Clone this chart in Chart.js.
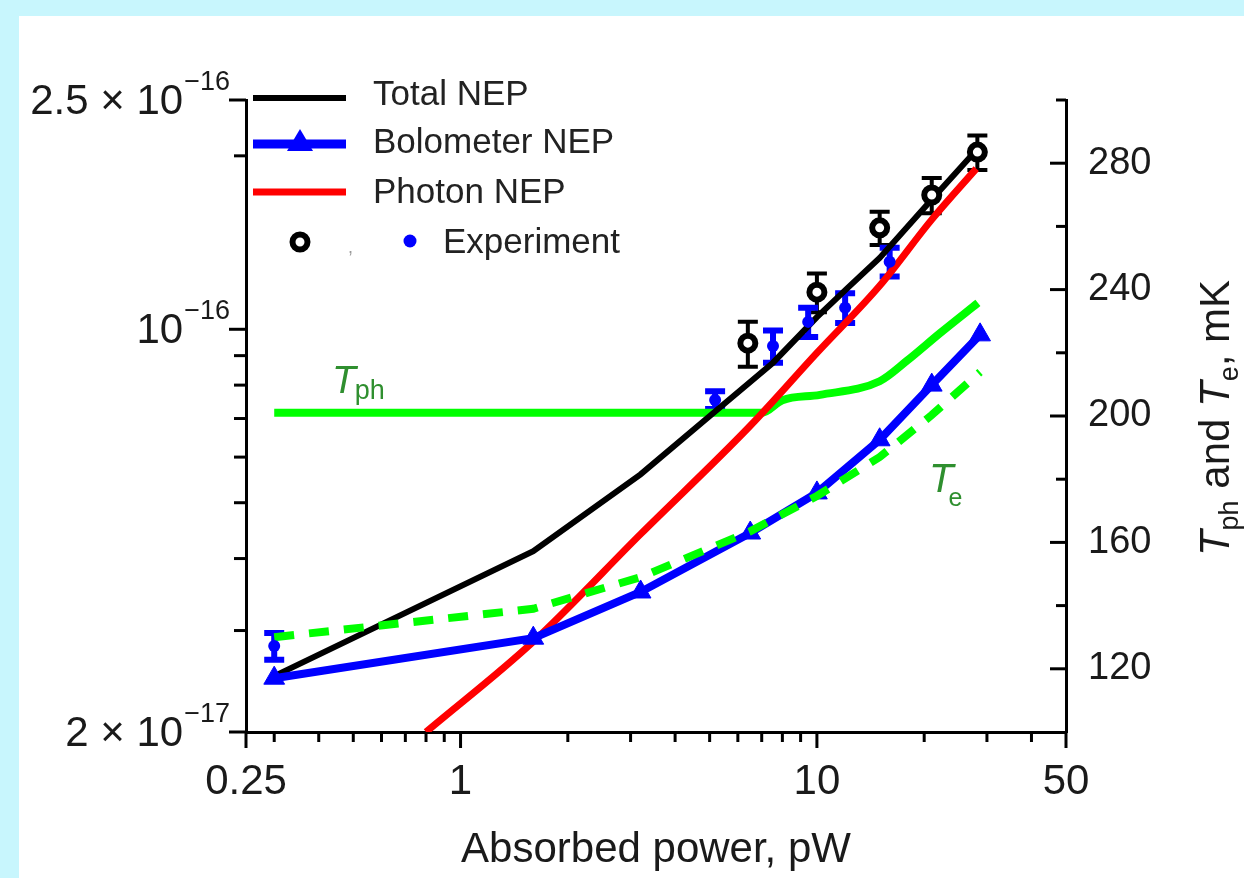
<!DOCTYPE html>
<html>
<head>
<meta charset="utf-8">
<script src="https://cdn.jsdelivr.net/npm/chart.js@4.4.1/dist/chart.umd.min.js"></script>
<style>
  html, body { margin:0; padding:0; }
  body { width:1244px; height:878px; background:#c8f6fd; position:relative; overflow:hidden; }
  #panel { position:absolute; left:19px; top:16px; width:1225px; height:862px; background:#ffffff; }
  #c { display:block; }
</style>
</head>
<body>
<div id="panel"><canvas id="c" width="1225" height="862"></canvas></div>
<script>
// ---------------- data ----------------
const modelPower     = [0.3, 1.6, 3.2, 6.5, 10, 15, 21, 28.7];
const bolometerNEP   = [2.48e-17, 2.91e-17, 3.5e-17, 4.43e-17, 5.2e-17, 6.43e-17, 8.0e-17, 9.78e-17];
const electronTemp   = [130, 139, 149, 163.5, 174.7, 187, 200.3, 213.9];
const totalPower     = [0.3, 1.6, 3.2, 5.25, 7.53, 10, 12.2, 15, 21, 28.7];
const totalNEP       = [2.5e-17, 4.12e-17, 5.6e-17, 7.25e-17, 8.75e-17, 1.05e-16, 1.18e-16, 1.33e-16, 1.68e-16, 2.08e-16];
const photonPower    = [0.8, 1.6, 3.2, 6.5, 10, 15, 21, 28];
const photonNEP      = [2.0e-17, 2.87e-17, 4.41e-17, 6.8e-17, 9.1e-17, 1.19e-16, 1.55e-16, 1.9e-16];
const phononPower    = [0.3, 7.0, 8.0, 10.2, 15, 17.9, 22.2, 28.3];
const phononTemp     = [201, 201, 205, 206.7, 211, 217.5, 226.3, 235.8];
const expTotalPower  = [6.4, 10.0, 15.0, 21.0, 28.2];
const expTotalNEP    = [9.46e-17, 1.16e-16, 1.50e-16, 1.71e-16, 2.03e-16];
const expTotalErr    = [0.85e-17, 0.09e-16, 0.10e-16, 0.12e-16, 0.14e-16];
const expBoloPower   = [0.3, 5.18, 7.53, 9.45, 12.0, 16.0];
const expBoloNEP     = [2.82e-17, 7.54e-17, 9.35e-17, 1.03e-16, 1.09e-16, 1.31e-16];
const expBoloErr     = [0.15e-17, 0.27e-17, 0.6e-17, 0.6e-17, 0.65e-17, 0.75e-17];

const xTickValues    = [0.25, 1, 10, 50];
const xTickLabels    = ['0.25', '1', '10', '50'];
const xMinorTicks    = [0.3, 0.4, 0.5, 0.6, 0.7, 0.8, 0.9, 2, 3, 4, 5, 6, 7, 8, 9, 20, 30, 40];
const yTickValues    = [2e-17, 1e-16, 2.5e-16];
const yTickMantissas = ['2 × ', '', '2.5 × '];
const yTickExponents = ['\u221217', '\u221216', '\u221216'];
const yMinorTicks    = [3e-17, 4e-17, 5e-17, 6e-17, 7e-17, 8e-17, 9e-17, 2e-16];
const tTickValues    = [120, 160, 200, 240, 280];
const tMinorTicks    = [140, 180, 220, 260, 300];
const legendLabels   = ['Total NEP', 'Bolometer NEP', 'Photon NEP', 'Experiment'];
const xTitle         = 'Absorbed power, pW';

// ---------------- helpers ----------------
const FONT = '"Liberation Sans", Arial, Helvetica, sans-serif';
const OX = 19, OY = 16; // panel offset in the page
const P = (x, y) => [x - OX, y - OY];
const toXY = (xs, ys) => xs.map((v, i) => ({ x: v, y: ys[i] }));
const GREEN = '#00ff00', BLUE = '#0000ff', RED = '#ff0000', DKGREEN = '#2f8f2f';

function drawRuns(ctx, runs, x, y, align) {
  let total = 0;
  runs.forEach(r => { ctx.font = r.font; r.w = ctx.measureText(r.text).width + (r.dx || 0); total += r.w; });
  let cx = align === 'center' ? x - total / 2 : x;
  runs.forEach(r => { ctx.font = r.font; ctx.fillText(r.text, cx, y + (r.dy || 0)); cx += r.w; });
}

// error bars through the chart's scales
const errorBars = {
  id: 'errorBars',
  beforeDatasetsDraw(chart) {
    const ctx = chart.ctx;
    chart.data.datasets.forEach(ds => {
      if (!ds.errors) return;
      const xs = chart.scales.x, ys = chart.scales[ds.yAxisID];
      ctx.save();
      ctx.strokeStyle = ds.errorColor; ctx.lineWidth = ds.errorWidth; ctx.lineCap = 'butt';
      ds.data.forEach((p, j) => {
        const px = xs.getPixelForValue(p.x);
        const t = ys.getPixelForValue(p.y + ds.errors[j]);
        const b = ys.getPixelForValue(p.y - ds.errors[j]);
        const hw = ds.capHalf;
        ctx.beginPath();
        ctx.moveTo(px, t); ctx.lineTo(px, b);
        ctx.moveTo(px - hw, t); ctx.lineTo(px + hw, t);
        ctx.moveTo(px - hw, b); ctx.lineTo(px + hw, b);
        ctx.stroke();
      });
      ctx.restore();
    });
  }
};

// tick marks, left labels, right title, legend, curve labels
const decor = {
  id: 'decor',
  afterDraw(chart) {
    const { ctx, chartArea: a, scales } = chart;
    const xs = scales.x, ys = scales.y, ts = scales.y2;
    ctx.save();
    ctx.strokeStyle = '#000'; ctx.lineWidth = 3; ctx.lineCap = 'butt';
    const seg = (x1, y1, x2, y2) => { ctx.beginPath(); ctx.moveTo(x1, y1); ctx.lineTo(x2, y2); ctx.stroke(); };
    xTickValues.forEach(v => { const p = xs.getPixelForValue(v); seg(p, a.bottom, p, a.bottom + 16); });
    xMinorTicks.forEach(v => { const p = xs.getPixelForValue(v); seg(p, a.bottom, p, a.bottom + 10); });
    yTickValues.forEach(v => { const p = ys.getPixelForValue(v); seg(a.left - 17, p, a.left, p); });
    yMinorTicks.forEach(v => { const p = ys.getPixelForValue(v); seg(a.left - 12, p, a.left, p); });
    tTickValues.forEach(v => { const p = ts.getPixelForValue(v); seg(a.right - 16, p, a.right, p); });
    tMinorTicks.forEach(v => { const p = ts.getPixelForValue(v); seg(a.right - 10, p, a.right, p); });

    // left tick labels with superscripts
    ctx.fillStyle = '#1a1a1a'; ctx.textBaseline = 'alphabetic';
    const rightEdge = a.left - 16;
    yTickValues.forEach((v, i) => {
      const p = ys.getPixelForValue(v);
      ctx.font = '27px ' + FONT;
      const w2 = ctx.measureText(yTickExponents[i]).width;
      ctx.textAlign = 'left';
      ctx.fillText(yTickExponents[i], rightEdge - w2, p - 10);
      ctx.font = '42px ' + FONT;
      ctx.textAlign = 'right';
      ctx.fillText(yTickMantissas[i] + '10', rightEdge - w2 - 1, p + 14);
    });

    // right axis title (rotated)
    ctx.save();
    const [rx, ry] = P(1229, 418);
    ctx.translate(rx, ry); ctx.rotate(-Math.PI / 2);
    ctx.textAlign = 'left'; ctx.fillStyle = '#1a1a1a';
    drawRuns(ctx, [
      { text: 'T', font: 'italic 42px ' + FONT },
      { text: 'ph', font: '27px ' + FONT, dy: 9 },
      { text: ' and ', font: '42px ' + FONT },
      { text: 'T', font: 'italic 42px ' + FONT },
      { text: 'e', font: '27px ' + FONT, dy: 9 },
      { text: ', mK', font: '42px ' + FONT }
    ], 0, 0, 'center');
    ctx.restore();

    // curve labels
    ctx.fillStyle = DKGREEN; ctx.textAlign = 'left';
    let [lx, ly] = P(332, 393);
    drawRuns(ctx, [{ text: 'T', font: 'italic 39px ' + FONT, dx: -1 }, { text: 'ph', font: '27px ' + FONT, dy: 6 }], lx, ly);
    [lx, ly] = P(929, 492);
    drawRuns(ctx, [{ text: 'T', font: 'italic 40px ' + FONT, dx: -5 }, { text: 'e', font: '25px ' + FONT, dy: 14 }], lx, ly);

    // legend
    const [l1] = P(253, 0), [l2] = P(346, 0), [tx] = P(373, 0);
    const rowsY = [98, 144, 192].map(v => v - OY);
    const baseY = [105, 153, 203].map(v => v - OY);
    const cols = ['#000000', BLUE, RED], lw = [6, 9, 7];
    for (let i = 0; i < 3; i++) {
      ctx.strokeStyle = cols[i]; ctx.lineWidth = lw[i];
      seg(l1, rowsY[i], l2, rowsY[i]);
    }
    const [trx, tryy] = P(300, 143);
    ctx.fillStyle = BLUE;
    ctx.beginPath(); ctx.moveTo(trx, tryy - 14); ctx.lineTo(trx + 13, tryy + 8); ctx.lineTo(trx - 13, tryy + 8); ctx.closePath(); ctx.fill();
    ctx.fillStyle = '#222'; ctx.font = '35px ' + FONT; ctx.textAlign = 'left';
    for (let i = 0; i < 3; i++) ctx.fillText(legendLabels[i], tx, baseY[i]);
    const [ex, ey] = P(443, 253);
    ctx.fillText(legendLabels[3], ex, ey);
    // experiment symbols
    const [cx, cy] = P(300, 242);
    ctx.lineWidth = 6; ctx.strokeStyle = '#000'; ctx.fillStyle = '#fff';
    ctx.beginPath(); ctx.arc(cx, cy, 7.5, 0, Math.PI * 2); ctx.fill(); ctx.stroke();
    const [kx, ky] = P(348, 253);
    ctx.fillStyle = '#9a9a9a'; ctx.font = '18px ' + FONT; ctx.fillText(',', kx, ky);
    const [bx, by] = P(410, 241);
    ctx.fillStyle = BLUE; ctx.beginPath(); ctx.arc(bx, by, 6.5, 0, Math.PI * 2); ctx.fill();
    ctx.restore();
  }
};

const ctx = document.getElementById('c').getContext('2d');
new Chart(ctx, {
  type: 'line',
  data: {
    datasets: [
      { label: 'expTotal', data: toXY(expTotalPower, expTotalNEP), yAxisID: 'y', showLine: false,
        pointRadius: 7.5, pointBorderWidth: 6, pointBorderColor: '#000', pointBackgroundColor: '#fff',
        errors: expTotalErr, errorColor: '#000', errorWidth: 4, capHalf: 10, order: 0 },
      { label: 'expBolo', data: toXY(expBoloPower, expBoloNEP), yAxisID: 'y', showLine: false,
        pointRadius: 6, pointBorderWidth: 0, pointBackgroundColor: BLUE,
        errors: expBoloErr, errorColor: BLUE, errorWidth: 6, capHalf: 10, order: 1 },
      { label: 'Te', data: toXY(modelPower, electronTemp), yAxisID: 'y2', borderColor: GREEN,
        borderWidth: 8, borderDash: [20, 15], pointRadius: 0, tension: 0, order: 2 },
      { label: 'Bolometer NEP', data: toXY(modelPower, bolometerNEP), yAxisID: 'y', borderColor: BLUE,
        borderWidth: 8, pointStyle: 'triangle', pointRadius: 12, pointBackgroundColor: BLUE,
        pointBorderColor: BLUE, pointBorderWidth: 1, tension: 0, order: 3 },
      { label: 'Total NEP', data: toXY(totalPower, totalNEP), yAxisID: 'y', borderColor: '#000',
        borderWidth: 6, pointRadius: 0, tension: 0, order: 4 },
      { label: 'Photon NEP', data: toXY(photonPower, photonNEP), yAxisID: 'y', borderColor: RED,
        borderWidth: 7, pointRadius: 0, cubicInterpolationMode: 'monotone', order: 5 },
      { label: 'Tph', data: toXY(phononPower, phononTemp), yAxisID: 'y2', borderColor: GREEN,
        borderWidth: 8, pointRadius: 0, cubicInterpolationMode: 'monotone', order: 6 }
    ]
  },
  options: {
    responsive: false, animation: false, devicePixelRatio: 1,
    layout: { padding: { top: 84, left: 0, right: 0, bottom: 0 } },
    plugins: { legend: { display: false }, tooltip: { enabled: false } },
    scales: {
      x: {
        type: 'logarithmic', position: 'bottom', min: 0.25, max: 50,
        grid: { display: false, drawTicks: false },
        border: { display: true, color: '#000', width: 3 },
        afterBuildTicks: s => { s.ticks = xTickValues.map(v => ({ value: v })); },
        afterFit: s => { s.height = 146; },
        ticks: { color: '#1a1a1a', font: { family: FONT, size: 42 }, padding: 25, maxRotation: 0, autoSkip: false,
          callback: v => xTickLabels[xTickValues.indexOf(v)] },
        title: { display: true, text: xTitle, color: '#1a1a1a', font: { family: FONT, size: 42 }, padding: { top: 0, bottom: 2 } }
      },
      y: {
        type: 'logarithmic', position: 'left', min: 2e-17, max: 2.5e-16,
        grid: { display: false, drawTicks: false },
        border: { display: true, color: '#000', width: 3 },
        ticks: { display: false },
        afterFit: s => { s.width = 227; }
      },
      y2: {
        type: 'linear', position: 'right', min: 100, max: 300,
        grid: { display: false, drawTicks: false },
        border: { display: true, color: '#000', width: 3 },
        afterBuildTicks: s => { s.ticks = tTickValues.map(v => ({ value: v })); },
        afterFit: s => { s.width = 178; },
        ticks: { color: '#1a1a1a', font: { family: FONT, size: 38 }, padding: 22, crossAlign: 'near',
          callback: v => String(v) }
      }
    }
  },
  plugins: [errorBars, decor]
});
</script>
</body>
</html>
